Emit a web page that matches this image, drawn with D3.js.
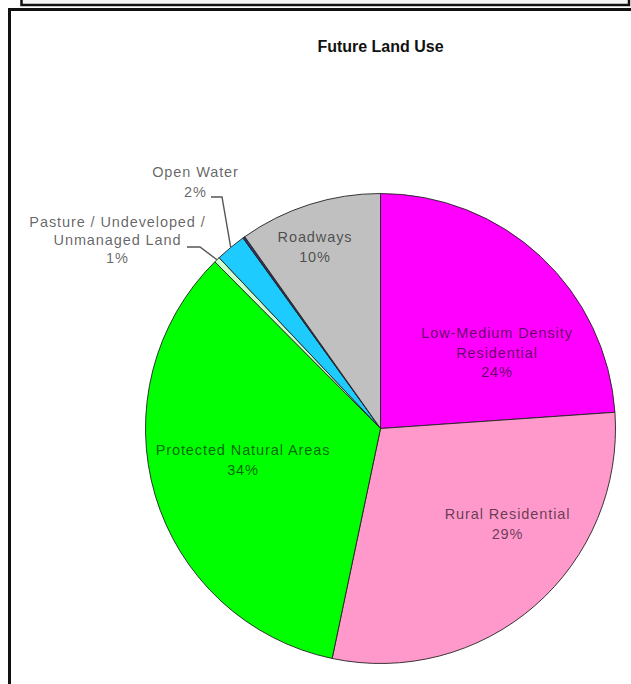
<!DOCTYPE html>
<html><head><meta charset="utf-8">
<script src="https://cdn.jsdelivr.net/npm/d3@7"></script>
<style>body{margin:0;background:#fff}svg{display:block}</style>
</head><body>
<script>
// ---- data ----
const categories = ["Low-Medium Density Residential","Rural Residential","Protected Natural Areas","Pasture / Undeveloped / Unmanaged Land","Open Water","Other","Roadways"];
const values = [23.9, 29.4, 34.25, 0.4, 2.1, 0.15, 9.8];
const pctLabels = ["24%","29%","34%","1%","2%","","10%"];
const labelLines = [["Low-Medium Density","Residential"],["Rural Residential"],["Protected Natural Areas"],["Pasture / Undeveloped /","Unmanaged Land"],["Open Water"],[],["Roadways"]];
const colors = ["#FF00FF","#FF99CC","#00FF00","#CCFFCC","#1ECBFF","#333366","#C0C0C0"];
const title = "Future Land Use";

// ---- layout (not data) ----
const W = 631, H = 684;
const cx = 380.5, cy = 428.5, R = 235;
// label anchor offsets from pie centre (centre of first line) and line height
const labelLayout = [
  {dx:116.5, dy:-95.5, lh:19.5},
  {dx:127,   dy:85.5,  lh:19.5},
  {dx:-137.5,dy:21.5,  lh:20},
  {dx:-263,  dy:-206.5,lh:18},
  {dx:-185,  dy:-256.5,lh:20},
  null,
  {dx:-65.5, dy:-191.5,lh:20}
];
const leaders = {3:{x0:187,x1:200,y:247}, 4:{x0:211,x1:222,y:197}};

const svg = d3.select("body").append("svg").attr("width",W).attr("height",H);

// frames
svg.append("path").attr("d","M21.5,-2 V5 H629 V-2").attr("fill","#f4f4f4").attr("stroke","#111").attr("stroke-width",2.5);
svg.append("rect").attr("x",9.5).attr("y",9.5).attr("width",700).attr("height",700)
  .attr("fill","#fff").attr("stroke","#111").attr("stroke-width",3);

svg.append("text").attr("x",cx).attr("y",52).attr("text-anchor","middle")
  .attr("font-family","Liberation Sans, Arial, sans-serif").attr("font-weight","bold")
  .attr("font-size",16).attr("fill","#111").text(title);

const data = categories.map((c,i)=>({c, v:values[i], i}));
const pie = d3.pie().value(d=>d.v).sort(null).startAngle(0).endAngle(2*Math.PI);
const arcs = pie(data);
const arc = d3.arc().innerRadius(0).outerRadius(R);

const g = svg.append("g").attr("transform",`translate(${cx},${cy})`);
g.selectAll("path.slice").data(arcs).join("path").attr("class","slice")
  .attr("d",arc).attr("fill",d=>colors[d.data.i])
  .attr("stroke","#222").attr("stroke-width",0.9).attr("stroke-linejoin","round");

// leader lines
Object.entries(leaders).forEach(([k,L])=>{
  const a = arcs[+k];
  const mid = (a.startAngle+a.endAngle)/2;
  const px = cx + R*Math.sin(mid), py = cy - R*Math.cos(mid);
  svg.append("polyline").attr("points",`${L.x0},${L.y} ${L.x1},${L.y} ${px},${py}`)
    .attr("fill","none").attr("stroke","#555").attr("stroke-width",1.4);
});

// labels
arcs.forEach((a,i)=>{
  const lay = labelLayout[i];
  if(!lay) return;
  const lines = labelLines[i].concat([pctLabels[i]]);
  const t = svg.append("text").attr("text-anchor","middle")
    .attr("font-family","Liberation Sans, Arial, sans-serif").attr("font-size",14.5)
    .attr("letter-spacing","0.9px")
    .attr("fill","#000").attr("fill-opacity",0.62);
  lines.forEach((ln,j)=>{
    t.append("tspan").attr("x",cx+lay.dx).attr("y",cy+lay.dy+j*lay.lh+5).text(ln);
  });
});
</script>
</body></html>
